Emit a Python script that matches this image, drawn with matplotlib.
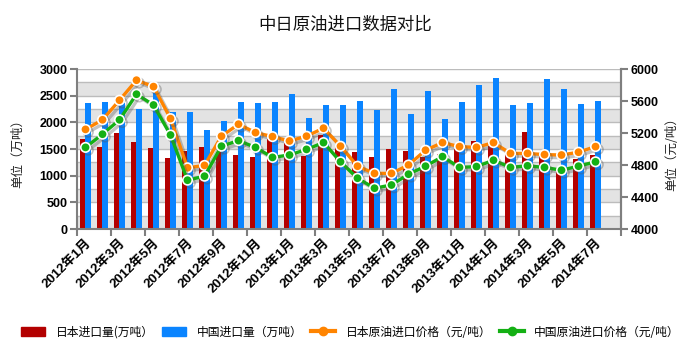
"""中日原油进口数据对比: bars for import volume, lines for import price"""

import matplotlib
matplotlib.use("Agg")
import matplotlib.pyplot as plt
import matplotlib.patheffects as pe
from matplotlib.patches import Patch
from matplotlib.lines import Line2D

CJK = "Noto Sans CJK SC"
plt.rcParams["font.family"] = ["Liberation Sans", CJK]

# Jan 2012 .. Jul 2014 (Aug 2014 slot is left empty on the axis)
tick_labels = [
    "2012年1月", "2012年3月", "2012年5月", "2012年7月", "2012年9月", "2012年11月",
    "2013年1月", "2013年3月", "2013年5月", "2013年7月", "2013年9月", "2013年11月",
    "2014年1月", "2014年3月", "2014年5月", "2014年7月",
]
n_slots = 32

# import volume, 万吨
japan_vol = [1680, 1530, 1795, 1625, 1525, 1330, 1455, 1535, 1450, 1395, 1350, 1680,
             1620, 1375, 1760, 1550, 1435, 1355, 1495, 1470, 1350, 1400, 1500, 1655,
             1560, 1400, 1810, 1370, 1150, 1305, 1395]
china_vol = [2355, 2390, 2370, 2245, 2550, 2185, 2200, 1855, 2025, 2390, 2355, 2390,
             2530, 2090, 2325, 2325, 2400, 2230, 2625, 2155, 2590, 2055, 2375, 2700,
             2825, 2325, 2370, 2805, 2625, 2345, 2400]

# import price, 元/吨
japan_price = [5245, 5365, 5610, 5860, 5780, 5380, 4765, 4795, 5160, 5310, 5205, 5155,
               5100, 5160, 5260, 5035, 4785, 4695, 4695, 4800, 4985, 5080, 5030, 5020,
               5080, 4945, 4945, 4930, 4925, 4960, 5030]
china_price = [5020, 5185, 5365, 5685, 5550, 5175, 4610, 4660, 5035, 5105, 5020, 4895,
               4925, 4995, 5080, 4840, 4635, 4510, 4550, 4685, 4785, 4905, 4770, 4780,
               4860, 4770, 4790, 4770, 4735, 4785, 4840]

RED = "#b30000"
BLUE = "#0a84ff"
ORANGE = "#ff8400"
GREEN = "#14b014"
AXIS_GRAY = "#7f7f7f"


def main():
    fig = plt.figure(figsize=(6.9, 3.61), dpi=100)
    ax = fig.add_axes([77 / 690, 1 - 229 / 361, 544 / 690, 160 / 361])

    # Alternating grey bands and grid lines
    for v in range(0, 3000, 500):
        ax.axhspan(v, v + 250, color="#e3e3e3", zorder=0, lw=0)
    for v in range(0, 3001, 250):
        ax.axhline(v, color="#bcbcbc", lw=1, zorder=0.5)

    x = list(range(len(japan_vol)))
    ax.bar([i - 0.18 for i in x], japan_vol, width=0.33, color=RED, zorder=2)
    ax.bar([i + 0.16 for i in x], china_vol, width=0.33, color=BLUE, zorder=2)

    ax.set_xlim(-0.5, n_slots - 0.5)
    ax.set_ylim(0, 3000)
    ax.set_yticks(range(0, 3001, 500))

    # ticks at category boundaries, labels at every other month
    ax.set_xticks([i - 0.5 for i in range(0, n_slots + 1, 2)])
    ax.set_xticklabels([])
    ax.set_xticks(range(0, n_slots, 2), tick_labels, minor=True)
    ax.tick_params(axis="x", which="major", direction="out", length=5,
                   color=AXIS_GRAY, width=1.5)
    ax.tick_params(axis="x", which="minor", length=0, pad=6)
    for lab in ax.get_xticklabels(minor=True):
        lab.set_rotation(45)
        lab.set_ha("right")
        lab.set_va("top")
        lab.set_rotation_mode("anchor")
        lab.set_fontsize(9.5)
        lab.set_fontweight("bold")

    ax.tick_params(axis="y", direction="out", length=5, color=AXIS_GRAY,
                   width=1.5, labelsize=9, pad=2)
    for lab in ax.get_yticklabels():
        lab.set_fontweight("bold")

    ax.spines["top"].set_visible(False)
    for side in ["left", "bottom", "right"]:
        ax.spines[side].set_color(AXIS_GRAY)
        ax.spines[side].set_linewidth(1.5)

    # price lines on the right axis
    ax2 = ax.twinx()
    shadow = [pe.SimpleLineShadow(offset=(2, -2), shadow_color="#555555", alpha=0.35),
              pe.Normal()]
    ax2.plot(x, japan_price, color=ORANGE, lw=2.4, marker="o", ms=6.8,
             mfc=ORANGE, mec="white", mew=1.2, path_effects=shadow, zorder=3)
    ax2.plot(x, china_price, color=GREEN, lw=2.4, marker="o", ms=6.8,
             mfc=GREEN, mec="white", mew=1.2, path_effects=shadow, zorder=3)
    ax2.set_ylim(4000, 6000)
    ax2.set_yticks(range(4000, 6001, 400))
    ax2.tick_params(axis="y", direction="out", length=5, color=AXIS_GRAY,
                    width=1.5, labelsize=9, pad=2)
    for lab in ax2.get_yticklabels():
        lab.set_fontweight("bold")
    for side in ["top", "left", "bottom"]:
        ax2.spines[side].set_visible(False)
    ax2.spines["right"].set_color(AXIS_GRAY)
    ax2.spines["right"].set_linewidth(1.5)

    # texts
    fig.text(0.5, 1 - 25 / 361, "中日原油进口数据对比", ha="center", va="center",
             fontsize=12.5, family=CJK, color="#111111")
    fig.text(18 / 690, 1 - 150 / 361, "单位（万吨）", rotation=90, ha="center",
             va="center", fontsize=9, family=CJK, color="#222222")
    fig.text(672 / 690, 1 - 151 / 361, "单位（元/吨）", rotation=90, ha="center",
             va="center", fontsize=9, family=CJK, color="#222222")

    handles = [
        Patch(color=RED),
        Patch(color=BLUE),
        Line2D([], [], color=ORANGE, lw=3, marker="o", ms=6, mec=ORANGE),
        Line2D([], [], color=GREEN, lw=3, marker="o", ms=6, mec=GREEN),
    ]
    names = ["日本进口量(万吨）", "中国进口量（万吨）", "日本原油进口价格（元/吨）",
             "中国原油进口价格（元/吨）"]
    fig.legend(handles, names, ncol=4, loc="center",
               bbox_to_anchor=(0.508, 1 - 332 / 361), frameon=False,
               prop={"family": CJK, "size": 8.5}, handlelength=2.0,
               handleheight=0.9, handletextpad=0.9, columnspacing=0.75)

    fig.savefig("out.png", dpi=100)


if __name__ == "__main__":
    main()
